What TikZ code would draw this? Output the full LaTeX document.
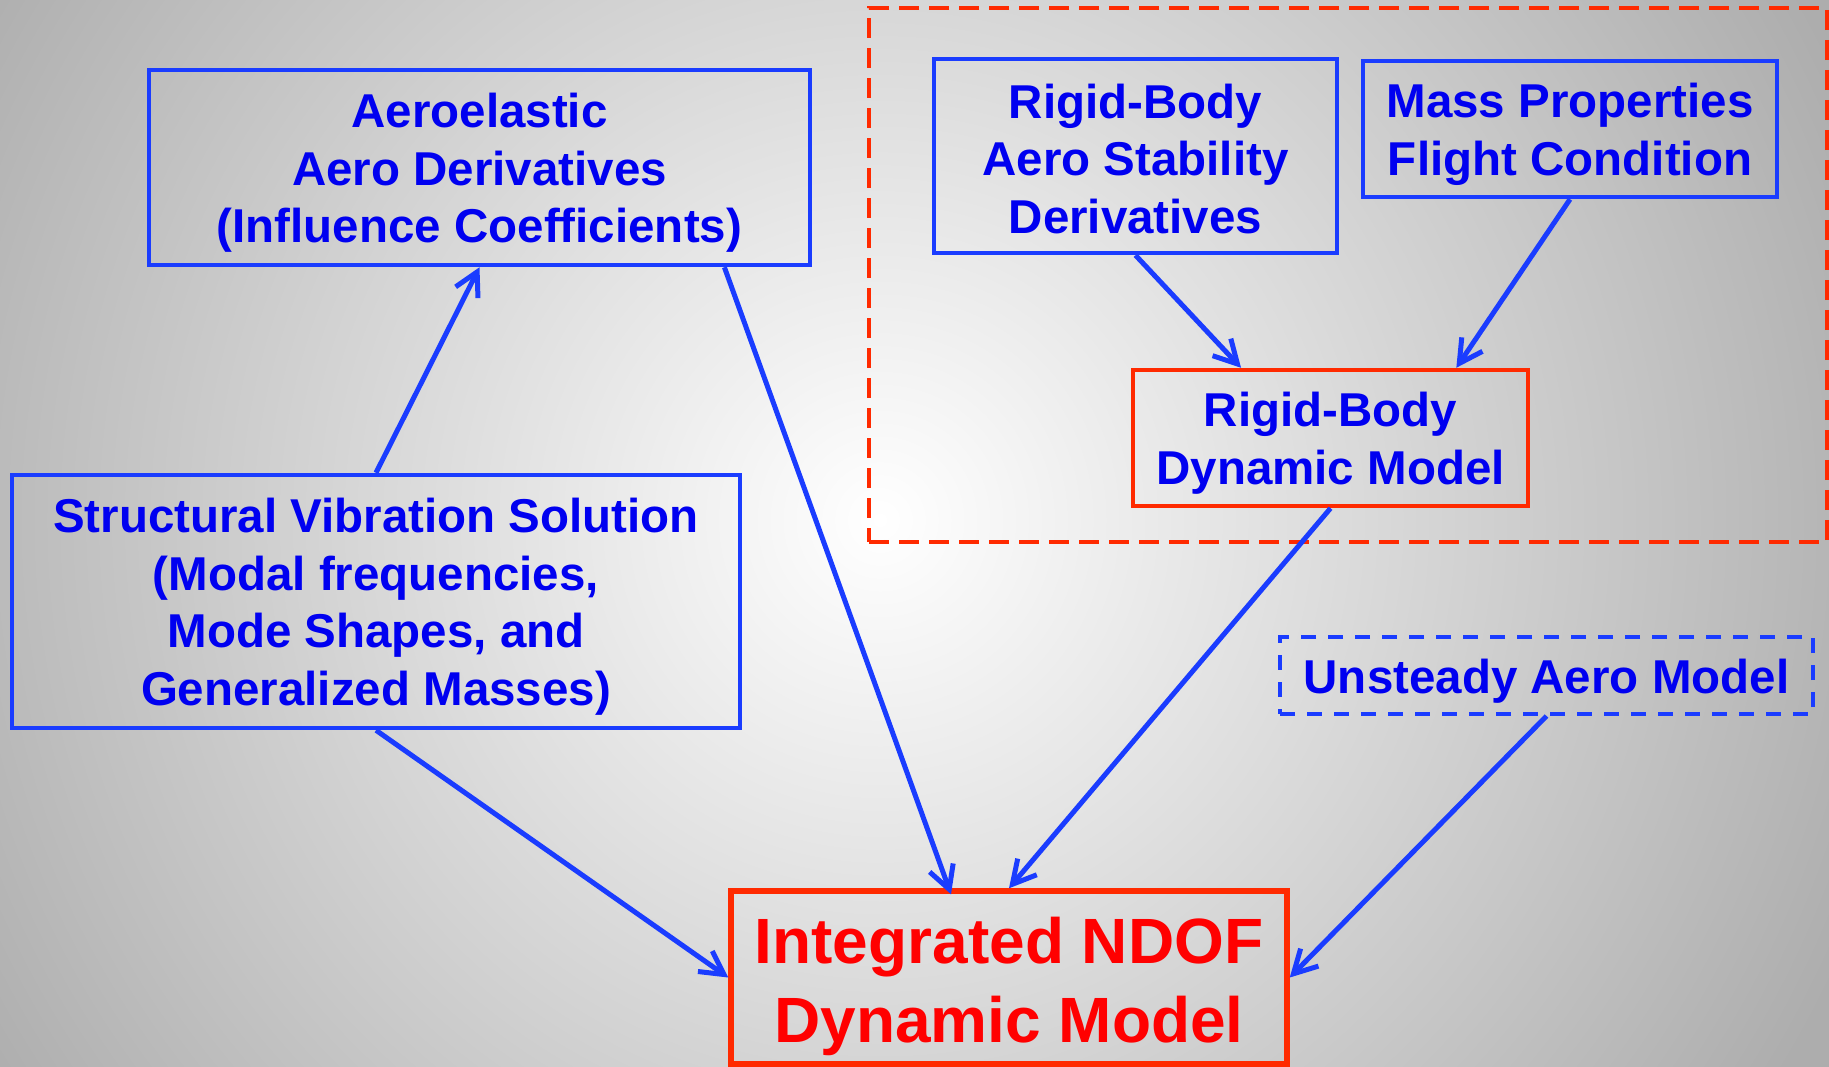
\documentclass[tikz,border=0pt]{standalone}
\usepackage{fontspec}
\setmainfont{Liberation Sans}
\usetikzlibrary{arrows.meta,calc}
\definecolor{bblue}{HTML}{1A3CFF}
\definecolor{tblue}{HTML}{0000F0}
\definecolor{bred}{HTML}{FF2A00}
\definecolor{tred}{HTML}{FF0000}
\definecolor{bggray}{gray}{0.68}
\definecolor{arrblue}{HTML}{1A3CFF}
\pgfdeclareradialshading{bgshade}{\pgfpoint{0bp}{0bp}}{color(0bp)=(white); color(1050bp)=(bggray); color(1300bp)=(bggray)}
\newcommand{\mystrutA}{\rule[-6pt]{0pt}{51pt}}
\newcommand{\mystrutB}{\rule[-6pt]{0pt}{70pt}}
\begin{document}
\begin{tikzpicture}[x=1pt,y=-1pt,
  box/.style={draw=bblue, line width=4.5pt, text=tblue, font=\bfseries\fontsize{47.5}{57.5}\selectfont, align=center, inner sep=0pt},
  redbox/.style={box, draw=bred},
  arr/.style={draw=arrblue, line width=5pt, -{Straight Barb[length=23pt,width=25pt]}},
]
\useasboundingbox (0,0) rectangle (1829,1066);
\begin{scope}
\clip (0,0) rectangle (1829,1066);
\node[inner sep=0pt, outer sep=0pt] (bg) at (880,520) {\pgfuseshading{bgshade}};
\end{scope}

% dashed red group
\node[draw=bred, line width=3.5pt, dash pattern=on 20pt off 10pt, minimum width=958pt, minimum height=534pt, inner sep=0pt] (grp) at (1348,275) {};

\node[box, minimum width=661pt, minimum height=195pt] (aero) at (479.5,167.5) {\mystrutA Aeroelastic\\\mystrutA Aero Derivatives\\\mystrutA (Influence Coefficients)};
\node[box, minimum width=728pt, minimum height=253pt] (struct) at (376,601.5) {\mystrutA Structural Vibration Solution\\\mystrutA (Modal frequencies,\\\mystrutA Mode Shapes, and\\\mystrutA Generalized Masses)};
\node[box, minimum width=403pt, minimum height=194pt] (rbaero) at (1135.5,156) {\mystrutA Rigid-Body\\\mystrutA Aero Stability\\\mystrutA Derivatives};
\node[box, minimum width=414pt, minimum height=136pt] (mass) at (1570,129) {\mystrutA Mass Properties\\\mystrutA Flight Condition};
\node[redbox, minimum width=395pt, minimum height=136pt] (rbdyn) at (1330.5,438) {\mystrutA Rigid-Body\\\mystrutA Dynamic Model};
\node[box, line width=4pt, dash pattern=on 15pt off 12pt, minimum width=533pt, minimum height=77pt] (unsteady) at (1546.5,675.5) {\mystrutA Unsteady Aero Model};
\node[redbox, line width=5.5pt, text=tred, font=\bfseries\fontsize{64}{74}\selectfont, minimum width=556pt, minimum height=173pt] (integ) at (1009,977.5) {\mystrutB Integrated NDOF\\\mystrutB Dynamic Model};

% connectors
\draw[arr] (struct.north) -- (aero.south);
\draw[arr] ($(aero.south west)!0.868!(aero.south east)$) -- ([xshift=-58pt,yshift=-6pt]integ.north);
\draw[arr] (rbdyn.south) -- (integ.north);
\draw[arr] (struct.south) -- (integ.west);
\draw[arr] (unsteady.south) -- (integ.east);
\draw[arr] (rbaero.south) -- ($(rbdyn.north west)!0.276!(rbdyn.north east)$);
\draw[arr] (mass.south) -- ($(rbdyn.north west)!0.815!(rbdyn.north east)$);
\end{tikzpicture}
\end{document}
